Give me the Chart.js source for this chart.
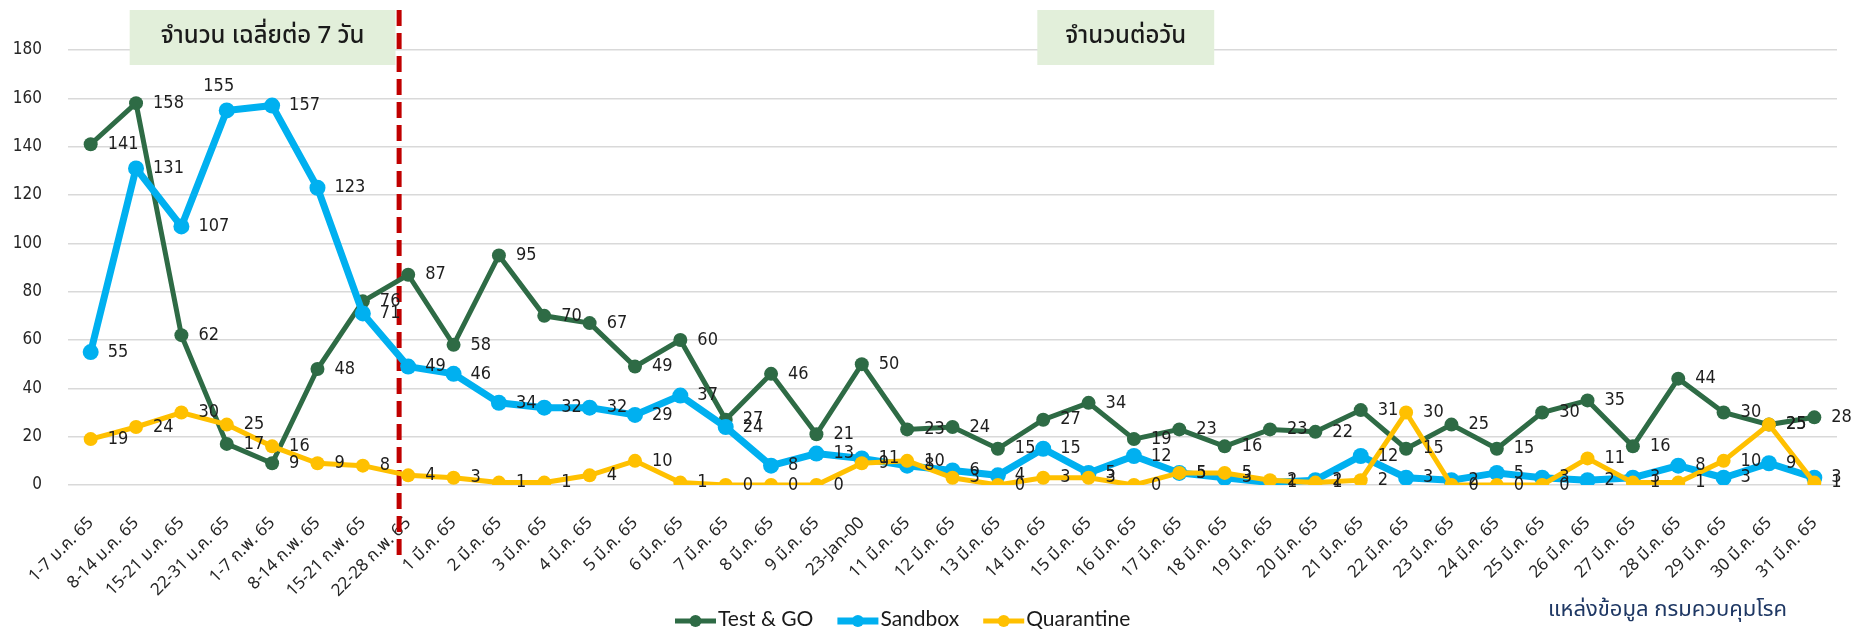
<!DOCTYPE html>
<html><head><meta charset="utf-8">
<script src="https://cdn.jsdelivr.net/npm/chart.js@4.4.0/dist/chart.umd.min.js"></script>
<style>html,body{margin:0;padding:0;background:#fff;}#wrap{width:1851px;height:630px;position:relative;}</style>
</head><body><div id="wrap"><canvas id="c" width="1851" height="630"></canvas></div>
<script>
// ---------- data ----------
const categories = [
  '1-7 ม.ค. 65','8-14 ม.ค. 65','15-21 ม.ค. 65','22-31 ม.ค. 65','1-7 ก.พ. 65','8-14 ก.พ. 65','15-21 ก.พ. 65','22-28 ก.พ. 65',
  '1 มี.ค. 65','2 มี.ค. 65','3 มี.ค. 65','4 มี.ค. 65','5 มี.ค. 65','6 มี.ค. 65','7 มี.ค. 65','8 มี.ค. 65','9 มี.ค. 65','23-Jan-00',
  '11 มี.ค. 65','12 มี.ค. 65','13 มี.ค. 65','14 มี.ค. 65','15 มี.ค. 65','16 มี.ค. 65','17 มี.ค. 65','18 มี.ค. 65','19 มี.ค. 65','20 มี.ค. 65',
  '21 มี.ค. 65','22 มี.ค. 65','23 มี.ค. 65','24 มี.ค. 65','25 มี.ค. 65','26 มี.ค. 65','27 มี.ค. 65','28 มี.ค. 65','29 มี.ค. 65','30 มี.ค. 65','31 มี.ค. 65'
];
const testAndGo  = [141,158,62,17,9,48,76,87, 58,95,70,67,49,60,27,46,21, 50, 23,24,15,27,34,19,23,16,23,22, 31,15,25,15,30,35,16,44,30,25,28];
const sandbox    = [55,131,107,155,157,123,71,49, 46,34,32,32,29,37,24,8,13, 11, 8,6,4,15,5,12,5,3,1,2, 12,3,2,5,3,2,3,8,3,9,3];
const quarantine = [19,24,30,25,16,9,8,4, 3,1,1,4,10,1,0,0,0, 9, 10,3,0,3,3,0,5,5,2,1, 2,30,0,0,0,11,1,1,10,25,1];
const yTicks = [0,20,40,60,80,100,120,140,160,180];
const seriesNames = ['Test & GO','Sandbox','Quarantine'];
const panelTitles = ['จำนวน เฉลี่ยต่อ 7 วัน','จำนวนต่อวัน'];
const sourceNote = 'แหล่งข้อมูล กรมควบคุมโรค';

// ---------- styling ----------
const THAI = "'Noto Sans Thai','Tahoma','Loma','Garuda','Sarabun','Noto Sans Thai UI','DejaVu Sans Condensed','DejaVu Sans',sans-serif";
const NUM = "'DejaVu Sans Condensed','DejaVu Sans',sans-serif";
const LEG = "Lato,'Open Sans',sans-serif";
const colors = ['#2E6B45','#00B0F0','#FFC000'];
const lineW = [5,7,5];
const ptR = [7,8,7];
// label placement exceptions (series index -> point index -> placement)
const labelPlace = {1:{3:'above'}};

const ctx = document.getElementById('c').getContext('2d');

const decorPlugin = {
  id:'decor',
  beforeDatasetsDraw(chart){
    const c = chart.ctx, xs = chart.scales.x, ys = chart.scales.y;
    const x = xs.getPixelForValue(6.8);
    c.save();
    c.strokeStyle = '#C00000'; c.lineWidth = 5; c.setLineDash([16,7]);
    c.beginPath(); c.moveTo(x, 10); c.lineTo(x, ys.getPixelForValue(0)+75); c.stroke();
    c.restore();
  },
  afterDatasetsDraw(chart){
    const c = chart.ctx;
    c.save();
    c.font = "18px " + NUM;
    c.fillStyle = '#1e1e1e';
    c.textBaseline = 'middle';
    chart.data.datasets.forEach((ds, i) => {
      const meta = chart.getDatasetMeta(i);
      meta.data.forEach((pt, j) => {
        const v = ds.data[j];
        const place = labelPlace[i] && labelPlace[i][j];
        if (place === 'above') { c.textAlign='center'; c.fillText(String(v), pt.x - 8, pt.y - 24); }
        else { c.textAlign='left'; c.fillText(String(v), pt.x + 17, pt.y); }
      });
    });
    c.restore();
  },
  afterDraw(chart){
    const c = chart.ctx, xs = chart.scales.x;
    c.save();
    // panel title boxes
    const boxes = [[0.86,6.72,panelTitles[0]],[20.87,24.77,panelTitles[1]]];
    boxes.forEach(b => {
      const l = xs.getPixelForValue(b[0]), r = xs.getPixelForValue(b[1]);
      c.fillStyle = '#E2EFDA'; c.fillRect(l, 10, r-l, 55);
      c.fillStyle = '#1a1a1a'; c.font = "500 24px " + THAI; c.textAlign='center'; c.textBaseline='middle';
      c.fillText(b[2], (l+r)/2, 38);
    });
    // legend
    let x = 675; const y = 619;
    c.font = "21px " + LEG; c.textBaseline='middle'; c.textAlign='left';
    chart.data.datasets.forEach((ds,i) => {
      c.strokeStyle = ds.borderColor; c.lineWidth = ds.borderWidth; c.setLineDash([]);
      c.beginPath(); c.moveTo(x, y+2); c.lineTo(x+41, y+2); c.stroke();
      c.fillStyle = ds.borderColor; c.beginPath(); c.arc(x+20.5, y+2, 6, 0, Math.PI*2); c.fill();
      c.fillStyle = '#1a1a1a';
      c.fillText(ds.label, x+43, y);
      x += 43 + c.measureText(ds.label).width + 24;
    });
    // source note
    c.font = "22px " + THAI; c.fillStyle = '#1F3864'; c.textAlign='left';
    c.fillText(sourceNote, 1548, 612);
    c.restore();
  }
};

const series = [testAndGo, sandbox, quarantine];
new Chart(ctx, {
  type:'line',
  data:{
    labels: categories,
    datasets: series.map((d,i) => ({
      label: seriesNames[i], data: d,
      borderColor: colors[i], backgroundColor: colors[i],
      borderWidth: lineW[i], pointRadius: ptR[i], pointBackgroundColor: colors[i],
      pointBorderColor: colors[i], pointBorderWidth: 0, pointHoverRadius: ptR[i],
      tension: 0, fill:false, order: 3-i
    }))
  },
  options:{
    responsive:false, animation:false, devicePixelRatio:1,
    layout:{padding:{top:50,right:14,left:0,bottom:0}},
    plugins:{legend:{display:false}, tooltip:{enabled:false}},
    scales:{
      x:{
        type:'category', offset:true,
        grid:{display:false, drawTicks:false}, border:{display:false},
        ticks:{autoSkip:false, minRotation:45, maxRotation:45, padding:29, labelOffset:1, color:'#262626', font:{family:THAI, size:17}},
        afterFit(s){ s.height = 145; s.paddingLeft = 0; s.paddingRight = 0; }
      },
      y:{
        min: yTicks[0], max: yTicks[yTicks.length-1],
        grid:{color:'#D9D9D9', lineWidth:1.5, drawTicks:false}, border:{display:false},
        ticks:{stepSize: yTicks[1]-yTicks[0], padding:26, color:'#262626', font:{family:NUM, size:17}},
        afterFit(s){ s.width = 68; }
      }
    }
  },
  plugins:[decorPlugin]
});
</script></body></html>
